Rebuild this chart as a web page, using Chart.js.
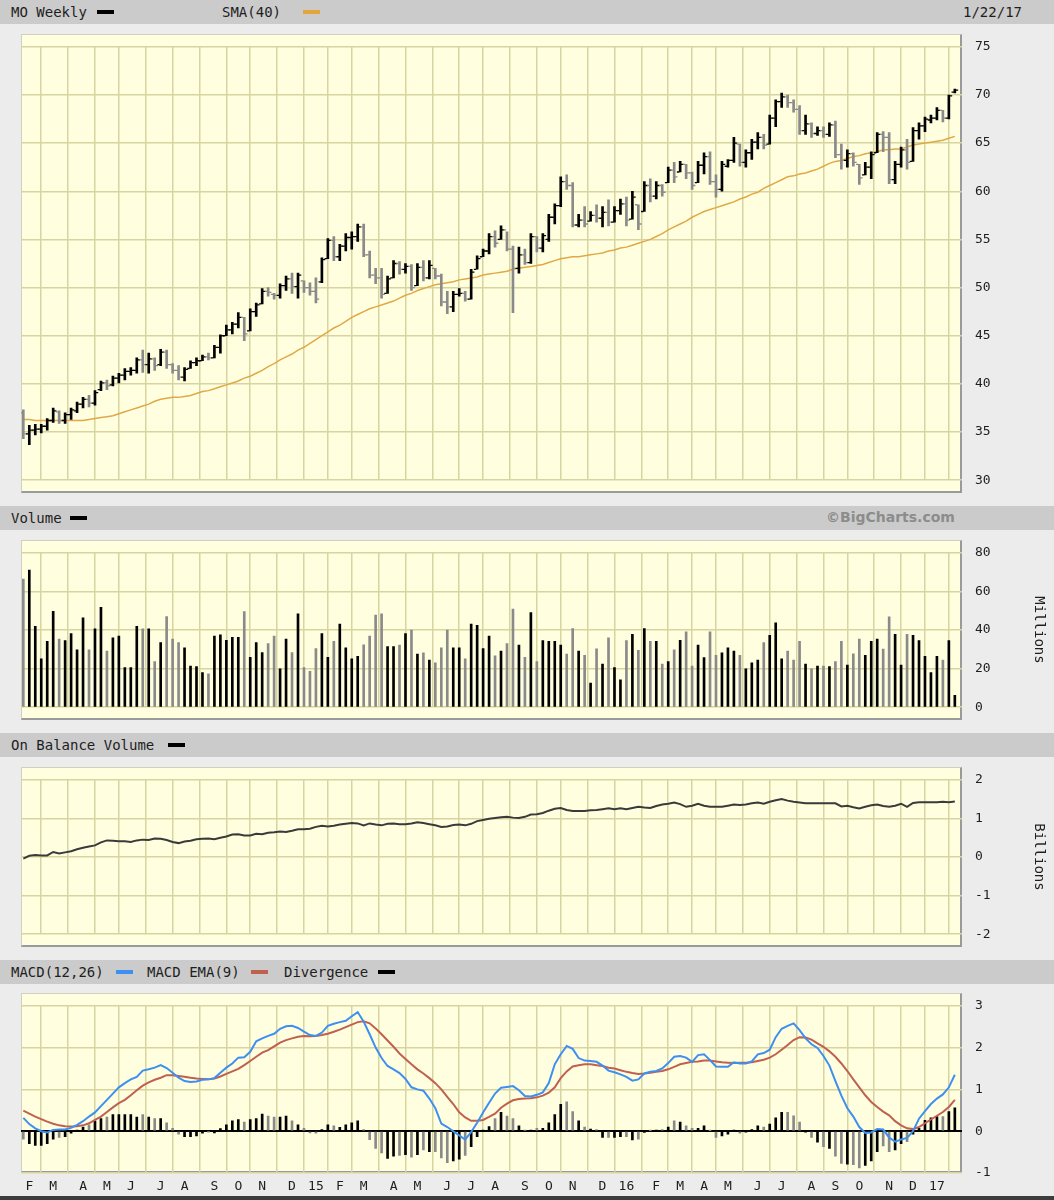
<!DOCTYPE html>
<html>
<head>
<meta charset="utf-8">
<title>MO Weekly</title>
<script src="https://cdn.jsdelivr.net/npm/chart.js@4.4.1/dist/chart.umd.min.js"></script>
<style>
  html, body { margin: 0; padding: 0; }
  body {
    width: 1054px; height: 1200px; position: relative; overflow: hidden;
    background: #ececec; font-family: "DejaVu Sans Mono", monospace; color: #1e1e1e;
  }
  .band { position: absolute; left: 0; width: 1054px; height: 24px; background: #cbcbcb; }
  .band span { position: absolute; top: 4px; font-size: 14px; line-height: 16px; white-space: nowrap; }
  .dash { position: absolute; top: 10px; width: 17px; height: 4px; }
  .plotbg {
    position: absolute; left: 21px; width: 941px; background: #ffffe0; box-sizing: border-box;
    border-left: 1px solid #d0d0c0; border-top: 1px solid #d0d0c0;
    border-right: 2px solid #9a9a9a; border-bottom: 2px solid #9a9a9a;
  }
  canvas { position: absolute; left: 0; }
  .unit { position: absolute; width: 100px; height: 16px; line-height: 16px; text-align: center;
          font-size: 14px; transform: rotate(90deg); }
  .foot { position: absolute; left: 0; top: 1196px; width: 1054px; height: 4px; background: #3c3c3c; }
</style>
</head>
<body>

<div class="band" style="top:0">
  <span style="left:11px">MO Weekly</span><div class="dash" style="left:97px;background:#000"></div>
  <span style="left:222px">SMA(40)</span><div class="dash" style="left:303px;background:#e2a63a"></div>
  <span style="left:963px">1/22/17</span>
</div>
<div class="band" style="top:506px">
  <span style="left:11px">Volume</span><div class="dash" style="left:70px;background:#000"></div>
  <span style="left:826px;top:3px;font-family:'DejaVu Sans',sans-serif;font-weight:bold;font-size:14px;color:#8c8c8c">©BigCharts.com</span>
</div>
<div class="band" style="top:733px">
  <span style="left:11px">On Balance Volume</span><div class="dash" style="left:168px;background:#000"></div>
</div>
<div class="band" style="top:960px">
  <span style="left:11px">MACD(12,26)</span><div class="dash" style="left:116px;background:#3d8ff0"></div>
  <span style="left:147px">MACD EMA(9)</span><div class="dash" style="left:251px;background:#c0604e"></div>
  <span style="left:284px">Divergence</span><div class="dash" style="left:378px;background:#000"></div>
</div>

<div class="plotbg" style="top:34px;height:459px"></div>
<div class="plotbg" style="top:540px;height:180px"></div>
<div class="plotbg" style="top:767px;height:180px"></div>
<div class="plotbg" style="top:993px;height:180px"></div>

<canvas id="cPrice"></canvas>
<canvas id="cVol"></canvas>
<canvas id="cObv"></canvas>
<canvas id="cMacd"></canvas>

<div class="unit" style="left:990px;top:622px">Millions</div>
<div class="unit" style="left:990px;top:849px">Billions</div>
<div class="foot"></div>

<script>
// Weekly bars, Jan 2014 .. Jan 2017 (index 0 = first week on the chart)
const monthIdx = [1,5,10,14,18,23,27,32,36,40,45,49,53,57,62,66,71,75,79,84,88,92,97,101,106,110,114,118,123,127,132,136,140,145,149,153];
const monthLabels = ['F','M','A','M','J','J','A','S','O','N','D','15','F','M','A','M','J','J','A','S','O','N','D','16','F','M','A','M','J','J','A','S','O','N','D','17'];

const high = [37.3,35.7,35.8,35.8,36.4,37.5,37.2,37.0,37.5,38.1,
  38.6,38.8,39.3,40.3,40.4,40.8,41.1,41.6,41.7,42.7,
  43.5,43.2,42.7,43.6,43.5,42.1,41.9,41.7,42.4,42.7,
  43.0,43.2,44.0,45.1,46.1,46.4,47.4,46.9,47.8,48.4,
  49.9,50.0,49.4,50.4,51.2,51.5,51.5,50.7,50.5,51.0,
  53.1,55.1,55.3,54.5,55.6,55.8,56.6,56.6,53.8,52.0,
  52.0,51.2,52.8,52.7,52.5,52.4,52.5,52.8,52.8,52.0,
  51.4,49.6,49.6,49.9,49.6,51.9,53.3,54.0,55.6,55.9,
  56.4,55.8,54.3,54.2,54.0,55.6,55.3,55.6,57.6,58.7,
  61.5,61.7,60.9,57.6,58.4,57.9,58.6,58.4,59.1,58.4,
  59.2,59.4,60.0,58.6,61.0,61.3,61.0,60.7,62.5,63.0,
  63.1,62.8,62.0,63.1,64.0,64.1,61.7,63.1,63.3,65.6,
  64.9,64.3,65.4,66.1,65.9,67.9,69.5,70.2,70.0,69.5,
  68.9,67.9,67.1,66.7,66.7,67.1,67.3,64.9,64.3,64.0,
  62.8,63.0,64.1,66.1,66.2,66.1,63.1,64.6,65.4,66.6,
  67.1,67.7,67.9,68.7,68.4,70.0,70.6];

const low = [34.3,33.7,34.7,34.9,35.2,36.0,35.9,35.9,36.3,37.0,
  37.5,37.6,37.8,39.3,39.4,39.8,40.1,40.4,40.9,41.1,
  41.2,41.1,41.4,41.9,41.6,41.1,40.4,40.3,41.6,41.9,
  42.4,42.5,42.7,43.2,45.0,45.2,45.8,44.5,45.5,47.0,
  48.3,49.1,48.8,48.9,49.7,49.4,48.9,49.5,49.2,48.4,
  50.5,53.0,52.8,52.8,53.8,54.0,54.8,53.2,51.0,50.4,
  48.9,49.4,51.0,51.4,51.5,49.7,50.2,50.7,50.9,50.9,
  48.1,47.3,47.5,49.1,48.6,48.8,51.9,53.2,53.5,54.2,
  55.0,53.8,47.4,51.5,52.4,52.5,53.7,53.7,54.8,56.6,
  58.4,60.2,56.3,56.3,56.3,56.9,56.8,56.3,56.4,56.8,
  57.6,56.4,57.1,56.0,57.9,58.9,59.2,59.5,60.9,60.9,
  62.0,61.3,60.2,60.9,61.8,60.7,59.4,60.0,62.5,63.0,
  62.6,62.5,63.3,64.4,64.4,64.9,66.7,68.7,68.7,68.2,
  65.9,65.9,65.6,65.8,65.6,65.7,63.5,62.3,62.5,62.6,
  60.7,61.7,61.3,64.0,64.1,60.8,60.8,62.5,62.3,63.1,
  65.4,66.2,67.1,67.4,67.2,67.5,70.2];

const open = [37.0,34.8,35.2,35.3,35.6,36.2,37.1,36.2,36.8,37.2,
  37.9,38.4,38.0,39.4,40.1,39.9,40.6,40.9,41.3,41.4,
  42.5,42.0,42.6,42.0,43.3,42.0,41.4,40.7,41.6,42.2,
  42.4,42.8,42.7,43.8,45.0,45.6,46.2,46.9,45.5,47.5,
  48.3,49.6,49.3,49.2,50.2,50.9,50.1,50.7,50.0,49.6,
  50.6,53.0,54.9,53.2,54.3,55.2,55.3,56.3,53.4,51.3,
  51.0,49.4,51.0,52.5,51.9,52.2,50.2,52.1,51.0,52.0,
  51.2,48.5,48.0,49.3,49.4,48.8,51.9,53.2,53.8,55.3,
  55.0,56.0,54.0,52.0,53.4,52.6,55.3,54.1,55.0,57.3,
  58.5,61.0,60.6,56.5,57.0,56.9,57.5,57.2,57.8,56.8,
  58.0,58.7,57.1,58.6,57.9,60.6,59.5,60.6,60.9,62.2,
  62.0,62.8,61.9,60.9,62.7,63.6,61.0,60.2,62.6,63.2,
  64.9,63.0,64.0,65.1,65.6,64.9,67.6,69.3,69.8,69.2,
  68.5,66.3,67.0,66.0,66.3,65.9,66.9,63.8,63.2,63.9,
  62.8,61.7,62.5,64.0,65.9,65.6,61.2,62.8,64.3,63.1,
  66.3,66.8,67.4,67.6,68.4,67.6,70.3];

const close = [34.8,35.2,35.3,35.6,36.2,37.2,36.2,36.8,37.3,37.9,
  38.4,38.0,39.1,40.1,39.8,40.6,40.9,41.3,41.4,42.5,
  42.0,42.6,41.9,43.3,42.0,41.4,40.7,41.5,42.2,42.4,
  42.8,42.7,43.8,45.0,45.6,46.2,46.9,45.2,47.5,48.2,
  49.6,49.5,49.2,50.2,50.9,50.1,51.3,50.0,49.6,48.8,
  52.9,54.9,53.2,54.3,55.2,55.3,56.3,53.4,51.3,51.0,
  49.3,50.9,52.5,51.9,52.2,50.0,52.1,51.0,52.3,51.2,
  48.5,48.0,49.3,49.4,48.8,51.6,53.0,53.8,55.3,54.6,
  56.0,54.0,52.0,53.4,52.6,55.3,54.1,55.4,57.3,58.5,
  61.0,60.6,56.5,57.0,56.6,57.5,57.2,57.8,56.8,58.0,
  58.7,57.0,59.4,56.6,60.6,59.5,60.6,59.9,62.2,61.5,
  62.8,61.9,60.6,62.7,63.6,61.0,60.2,62.8,63.2,65.0,
  63.0,64.0,65.1,65.6,64.8,67.6,69.3,69.8,69.2,68.5,
  66.3,67.0,66.0,66.3,65.9,66.9,63.8,63.2,63.9,63.0,
  61.4,62.5,63.8,65.9,65.6,61.2,62.8,64.3,63.0,66.3,
  66.8,67.5,67.6,68.4,67.6,69.9,70.5];

const sma40 = [36.3,36.3,36.2,36.2,36.2,36.2,36.2,36.2,36.2,36.2,
  36.2,36.3,36.4,36.5,36.6,36.7,36.9,37.1,37.3,37.5,
  37.7,37.9,38.2,38.4,38.5,38.6,38.6,38.7,38.8,39.0,
  39.2,39.3,39.5,39.7,39.9,40.1,40.3,40.6,40.8,41.1,
  41.4,41.8,42.1,42.5,42.8,43.1,43.5,43.8,44.2,44.6,
  45.0,45.4,45.8,46.1,46.5,46.9,47.2,47.5,47.8,48.0,
  48.2,48.4,48.6,48.9,49.2,49.4,49.7,49.9,50.1,50.3,
  50.4,50.5,50.6,50.8,50.9,51.0,51.1,51.3,51.4,51.5,
  51.6,51.7,51.9,52.0,52.1,52.2,52.3,52.4,52.6,52.8,
  53.0,53.1,53.2,53.2,53.3,53.4,53.5,53.6,53.8,53.9,
  54.1,54.2,54.4,54.6,54.8,55.0,55.3,55.6,56.0,56.3,
  56.6,56.9,57.3,57.6,57.9,58.1,58.3,58.5,58.7,58.9,
  59.2,59.4,59.7,59.9,60.3,60.6,60.9,61.2,61.5,61.6,
  61.8,61.9,62.1,62.3,62.6,62.9,63.1,63.2,63.4,63.6,
  63.7,63.9,64.0,64.1,64.3,64.3,64.4,64.4,64.6,64.8,
  64.9,65.0,65.1,65.2,65.3,65.5,65.7];

// Volume, millions of shares
const volume = [66.4,71.1,41.9,25.1,34.1,49.7,35.3,34.5,38.1,29.7,
  46.3,29.7,40.6,51.7,29.1,36.0,36.8,20.5,20.5,41.9,
  40.6,40.6,23.6,33.5,46.9,35.3,33.5,30.8,21.3,21.0,
  17.9,17.3,36.9,37.5,34.7,36.2,36.2,49.6,25.8,33.5,
  28.3,32.9,36.8,19.9,35.3,28.3,48.4,20.5,18.6,30.4,
  38.1,25.8,34.1,43.1,30.8,25.1,26.3,32.3,36.9,47.7,
  48.4,31.4,31.4,32.2,38.1,40.0,27.5,28.2,24.4,23.0,
  30.8,40.0,30.8,30.8,25.1,43.1,42.4,30.4,36.8,26.6,
  29.1,32.9,50.8,32.2,25.8,49.0,23.6,34.5,34.1,34.1,
  32.2,27.5,40.7,29.1,26.9,12.5,30.3,22.4,36.0,20.5,
  14.2,34.5,37.8,29.5,40.7,34.1,34.1,22.4,23.6,29.7,
  34.7,39.1,21.3,32.2,25.7,39.1,26.9,28.2,30.8,29.1,
  26.9,19.9,23.0,24.4,33.5,37.3,43.7,25.1,29.1,24.4,
  34.1,22.4,19.9,21.3,21.3,21.0,23.6,34.1,21.8,27.6,
  35.3,26.9,34.1,35.3,30.1,46.8,37.8,21.8,37.8,37.3,
  34.5,26.3,18.0,26.3,24.4,34.5,6.2];

// On balance volume, billions
const obv = [-0.04,0.03,0.05,0.04,0.04,0.13,0.09,0.12,0.15,0.20,
  0.24,0.27,0.30,0.38,0.43,0.42,0.41,0.41,0.39,0.43,
  0.45,0.44,0.48,0.47,0.44,0.39,0.36,0.40,0.42,0.46,
  0.47,0.48,0.46,0.50,0.53,0.58,0.59,0.56,0.56,0.60,
  0.59,0.63,0.64,0.66,0.65,0.68,0.72,0.72,0.73,0.78,
  0.81,0.79,0.81,0.84,0.86,0.88,0.87,0.82,0.87,0.84,
  0.82,0.86,0.87,0.85,0.85,0.87,0.90,0.88,0.85,0.82,
  0.78,0.79,0.83,0.84,0.82,0.86,0.93,0.96,0.99,1.01,
  1.03,1.04,1.02,1.01,1.04,1.10,1.11,1.14,1.20,1.25,
  1.27,1.22,1.19,1.19,1.19,1.21,1.22,1.24,1.26,1.24,
  1.26,1.24,1.27,1.30,1.28,1.27,1.32,1.36,1.38,1.41,
  1.37,1.30,1.33,1.38,1.33,1.30,1.30,1.30,1.33,1.36,
  1.35,1.36,1.39,1.41,1.38,1.43,1.47,1.50,1.46,1.43,
  1.41,1.39,1.39,1.39,1.39,1.39,1.39,1.31,1.33,1.29,
  1.26,1.30,1.34,1.36,1.32,1.30,1.33,1.38,1.30,1.40,
  1.42,1.42,1.42,1.42,1.43,1.42,1.44];

const macd = [0.32,0.17,0.07,0.00,-0.03,0.03,0.04,0.04,0.08,0.15,
  0.24,0.35,0.45,0.60,0.75,0.90,1.05,1.15,1.24,1.30,
  1.45,1.48,1.52,1.58,1.51,1.40,1.28,1.20,1.18,1.19,
  1.23,1.24,1.27,1.40,1.52,1.62,1.76,1.77,1.90,2.15,
  2.22,2.28,2.33,2.45,2.51,2.52,2.47,2.38,2.30,2.28,
  2.36,2.52,2.57,2.61,2.64,2.75,2.85,2.62,2.32,2.00,
  1.75,1.56,1.48,1.39,1.25,1.05,1.00,0.97,0.78,0.55,
  0.18,0.10,0.00,-0.10,-0.20,-0.02,0.20,0.45,0.68,0.90,
  1.04,1.06,1.08,0.98,0.84,0.83,0.87,0.93,1.15,1.60,
  1.84,2.04,1.97,1.75,1.69,1.68,1.66,1.57,1.45,1.41,
  1.36,1.30,1.21,1.24,1.38,1.42,1.44,1.50,1.63,1.78,
  1.80,1.76,1.66,1.82,1.84,1.70,1.55,1.54,1.54,1.65,
  1.62,1.62,1.67,1.84,1.87,1.95,2.25,2.45,2.52,2.58,
  2.42,2.22,2.08,1.99,1.80,1.57,1.20,0.85,0.55,0.35,
  0.10,-0.04,-0.03,0.05,0.04,-0.15,-0.25,-0.20,-0.16,0.00,
  0.30,0.48,0.65,0.78,0.88,1.05,1.35];

const macdEma = [0.49,0.42,0.35,0.29,0.23,0.18,0.14,0.12,0.11,0.12,
  0.14,0.19,0.27,0.35,0.46,0.57,0.67,0.75,0.86,0.98,
  1.09,1.17,1.23,1.28,1.34,1.34,1.32,1.30,1.28,1.26,
  1.25,1.24,1.26,1.31,1.37,1.43,1.49,1.58,1.68,1.78,
  1.88,1.94,2.03,2.12,2.18,2.22,2.26,2.28,2.27,2.28,
  2.30,2.33,2.38,2.43,2.49,2.55,2.61,2.63,2.58,2.46,
  2.32,2.17,2.02,1.86,1.73,1.60,1.48,1.38,1.27,1.15,
  1.00,0.82,0.65,0.45,0.33,0.25,0.25,0.27,0.34,0.42,
  0.56,0.66,0.74,0.77,0.78,0.79,0.81,0.85,0.92,1.05,
  1.27,1.43,1.55,1.58,1.60,1.60,1.58,1.56,1.52,1.50,
  1.46,1.42,1.39,1.37,1.38,1.40,1.42,1.44,1.48,1.54,
  1.60,1.63,1.66,1.67,1.69,1.69,1.67,1.65,1.64,1.63,
  1.64,1.64,1.65,1.68,1.71,1.76,1.84,1.95,2.06,2.18,
  2.25,2.24,2.19,2.10,2.02,1.91,1.78,1.62,1.44,1.24,
  1.05,0.86,0.70,0.58,0.47,0.38,0.24,0.14,0.07,0.05,
  0.10,0.19,0.28,0.37,0.46,0.58,0.75];

const divergence = [-0.19,-0.30,-0.34,-0.34,-0.30,-0.19,-0.15,-0.13,-0.05,0.02,
  0.10,0.15,0.24,0.30,0.34,0.40,0.40,0.40,0.40,0.34,
  0.40,0.34,0.30,0.30,0.20,0.07,-0.07,-0.13,-0.13,-0.11,
  -0.05,-0.01,-0.04,0.06,0.15,0.25,0.28,0.22,0.28,0.30,
  0.41,0.36,0.34,0.34,0.36,0.25,0.15,0.07,-0.04,-0.05,
  0.04,0.15,0.13,0.09,0.15,0.20,0.25,0.04,-0.20,-0.41,
  -0.52,-0.65,-0.60,-0.58,-0.56,-0.62,-0.56,-0.45,-0.49,-0.49,
  -0.64,-0.75,-0.71,-0.67,-0.58,-0.37,-0.13,0.02,0.11,0.30,
  0.45,0.36,0.30,0.13,0.02,0.01,0.07,0.07,0.20,0.40,
  0.64,0.70,0.47,0.25,0.10,0.05,0.04,-0.15,-0.15,-0.15,
  -0.13,-0.13,-0.21,-0.19,-0.03,0.01,0.02,0.04,0.10,0.25,
  0.22,0.13,0.07,0.07,0.13,0.01,-0.15,-0.11,-0.07,0.01,
  -0.05,-0.02,0.04,0.13,0.10,0.17,0.32,0.45,0.45,0.37,
  0.22,-0.02,-0.15,-0.26,-0.37,-0.41,-0.60,-0.77,-0.79,-0.80,
  -0.88,-0.82,-0.71,-0.49,-0.35,-0.49,-0.45,-0.30,-0.25,-0.07,
  0.07,0.26,0.32,0.35,0.35,0.47,0.56];

// ---- drawing ----
const X_MIN = -0.39, X_MAX = 157.2;
const GRID = '#d8d4a0';
const TXT = '#1e1e1e';
const TICK_FONT = { family: '"DejaVu Sans Mono", monospace', size: 13 };
const UP = '#000000', DOWN = '#8a8a8a';
const PAD_T = 8, PAD_B = 8, AXIS_W = 92, LEFT = 21;

const barColor = close.map((c, i) => (i === 0 ? c >= open[0] : c >= close[i - 1]) ? UP : DOWN);
const pts = arr => arr.map((v, i) => ({ x: i, y: v }));

function panel(id, plotTop, plotH, yCfg, datasets, withMonths) {
  const xH = withMonths ? 24 : 0;
  const cv = document.getElementById(id);
  cv.width = 1054;
  cv.height = plotH + PAD_T + (withMonths ? xH : PAD_B);
  cv.style.top = (plotTop - PAD_T) + 'px';
  return new Chart(cv, {
    type: 'bar',
    data: { datasets },
    options: {
      responsive: false, animation: false, devicePixelRatio: 1,
      layout: { padding: { left: LEFT, top: PAD_T, right: 0, bottom: withMonths ? 0 : PAD_B } },
      plugins: { legend: { display: false }, tooltip: { enabled: false } },
      scales: {
        x: {
          type: 'linear', min: X_MIN, max: X_MAX, offset: false,
          grid: { color: GRID, lineWidth: 1.5, drawTicks: false },
          border: { display: false },
          afterBuildTicks: s => { s.ticks = monthIdx.map(v => ({ value: v })); },
          afterFit: s => { s.height = xH; },
          ticks: {
            display: withMonths, autoSkip: false, maxRotation: 0, padding: 6,
            font: TICK_FONT, color: TXT,
            callback: (v, i) => monthLabels[i]
          }
        },
        y: Object.assign({
          position: 'right',
          border: { display: false },
          afterFit: s => { s.width = AXIS_W; },
          grid: { color: GRID, lineWidth: 1.5, drawTicks: false },
          ticks: { padding: 13, font: TICK_FONT, color: TXT, stepSize: yCfg.step }
        }, yCfg.extra || {}, { min: yCfg.min, max: yCfg.max })
      }
    }
  });
}

// Price: high-low bars, open tick left, close tick right, plus 40-week SMA
panel('cPrice', 34, 459, { min: 30, max: 75, step: 5 }, [
  { type: 'line', data: pts(sma40), borderColor: '#e0a946', borderWidth: 1.5,
    pointRadius: 0, tension: 0, order: 3 },
  { type: 'bar', data: high.map((h, i) => ({ x: i, y: [low[i], h] })),
    backgroundColor: barColor, barThickness: 2, order: 2 },
  { type: 'line', data: open.map((v, i) => ({ x: i - 0.35, y: v })), showLine: false,
    pointStyle: 'line', pointRadius: 1.2, pointBorderWidth: 1.3,
    pointBorderColor: barColor, pointBackgroundColor: barColor, order: 1 },
  { type: 'line', data: close.map((v, i) => ({ x: i + 0.35, y: v })), showLine: false,
    pointStyle: 'line', pointRadius: 1.2, pointBorderWidth: 1.3,
    pointBorderColor: barColor, pointBackgroundColor: barColor, order: 1 }
], false);

// Volume
panel('cVol', 540, 180, { min: 0, max: 80, step: 20 }, [
  { type: 'bar', data: pts(volume), backgroundColor: barColor, barThickness: 2 }
], false);

// On balance volume
panel('cObv', 767, 180, { min: -2, max: 2, step: 1 }, [
  { type: 'line', data: pts(obv), borderColor: '#3a3a3a', borderWidth: 2,
    pointRadius: 0, tension: 0 }
], false);

// MACD, signal line, divergence histogram
panel('cMacd', 993, 180, {
  min: -1, max: 3, step: 1,
  extra: {
    grid: {
      drawTicks: false,
      color: c => (c.tick && c.tick.value === 0) ? '#000000' : GRID,
      lineWidth: c => (c.tick && c.tick.value === 0) ? 2 : 1.5
    }
  }
}, [
  { type: 'line', data: pts(macd), borderColor: '#3d8ff0', borderWidth: 2,
    pointRadius: 0, tension: 0, order: 1 },
  { type: 'line', data: pts(macdEma), borderColor: '#c0604e', borderWidth: 2,
    pointRadius: 0, tension: 0, order: 2 },
  { type: 'bar', data: pts(divergence), backgroundColor: barColor, barThickness: 2, order: 3 }
], true);
</script>
</body>
</html>
